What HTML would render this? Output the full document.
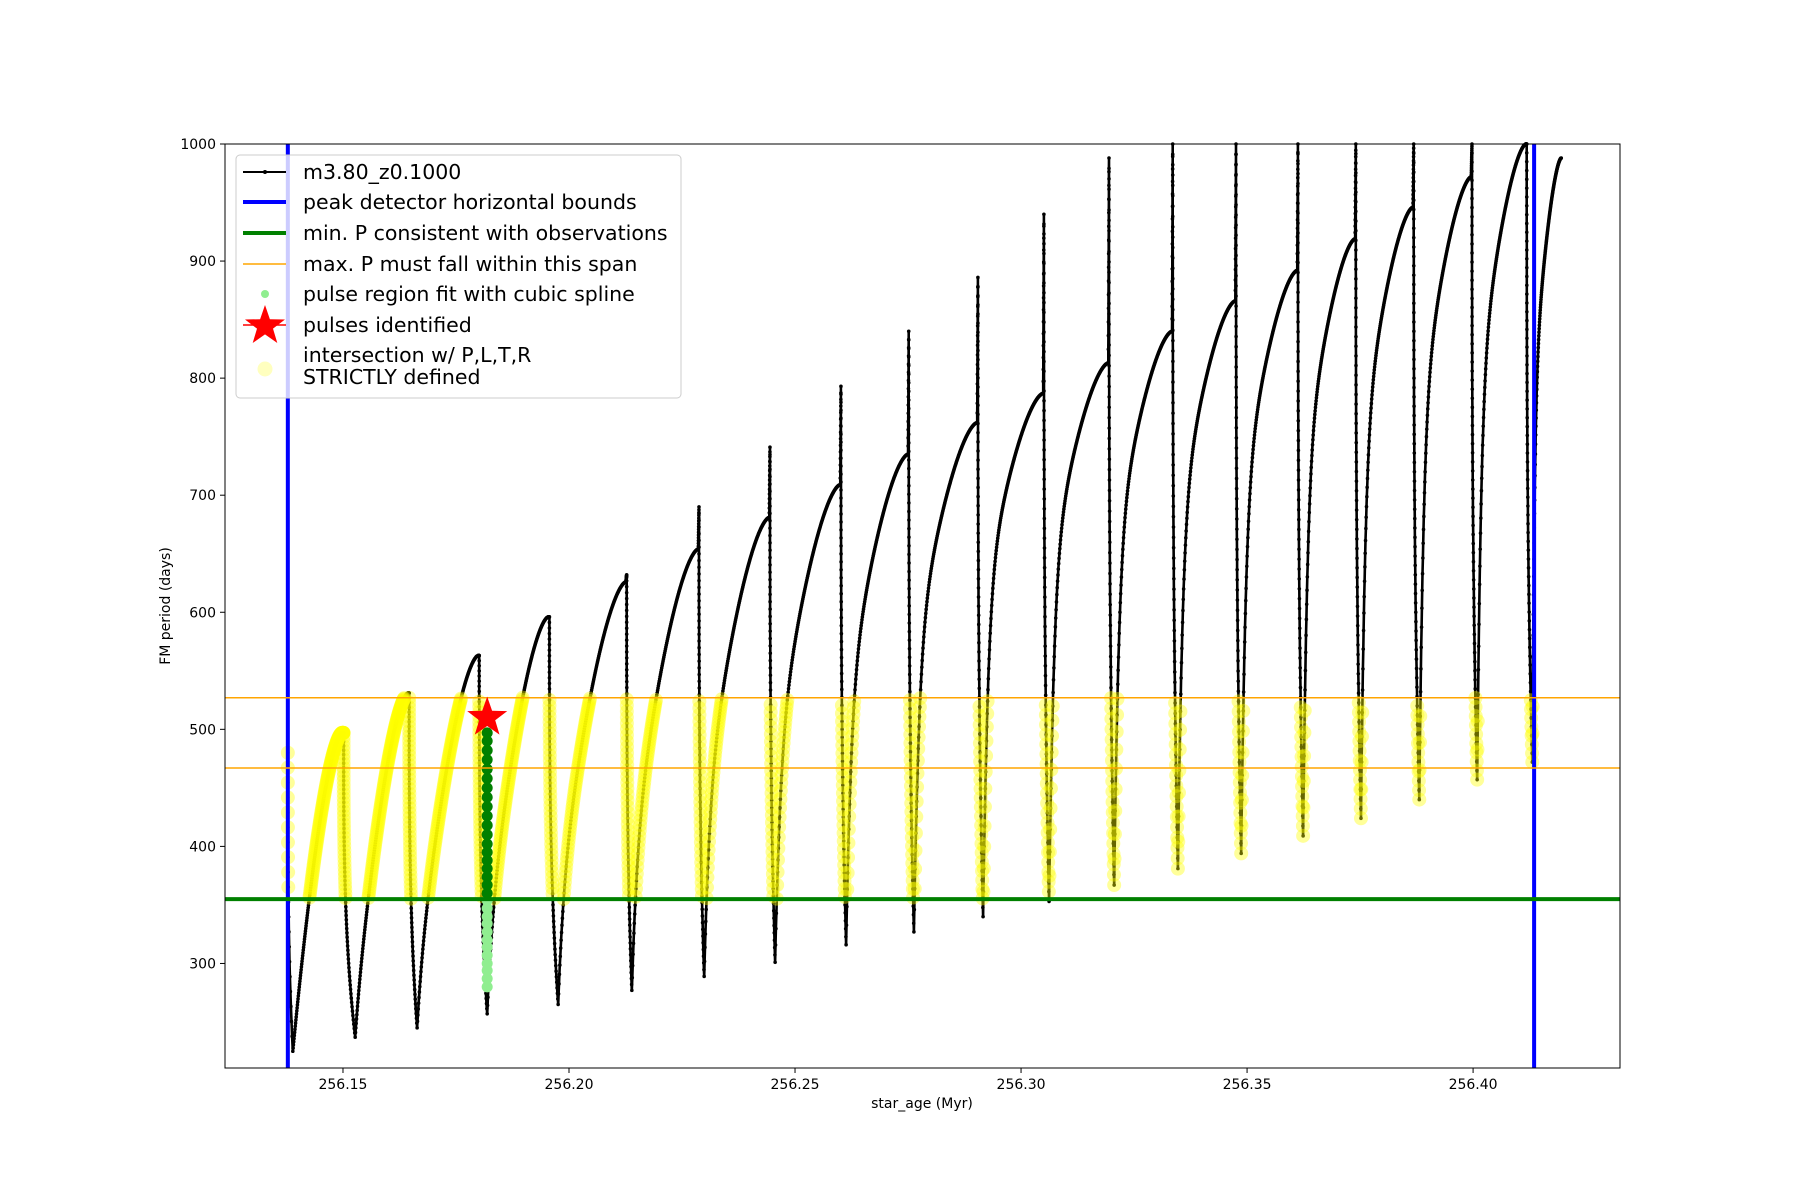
<!DOCTYPE html>
<html><head><meta charset="utf-8"><style>
body{margin:0;background:#fff}
svg{display:block;font-family:"DejaVu Sans","Liberation Sans",sans-serif}
</style></head><body>
<svg id="chart" width="1800" height="1200" xmlns="http://www.w3.org/2000/svg">
<rect width="1800" height="1200" fill="#fff"/>
<g id="marks"></g>
<rect x="225" y="144" width="1395" height="924" fill="none" stroke="#000" stroke-width="1"/>
<g id="axes"></g>
<text x="922" y="1108" text-anchor="middle" font-size="14">star_age (Myr)</text>
<text transform="translate(170,606) rotate(-90)" text-anchor="middle" font-size="14">FM period (days)</text>
<g>
<rect x="236" y="155" width="445" height="243" rx="4" fill="#fff" fill-opacity="0.8" stroke="#ccc"/>
<line x1="243" y1="172" x2="286" y2="172" stroke="#000" stroke-width="2"/><circle cx="265" cy="172" r="2" fill="#000"/>
<text x="303" y="179" font-size="20.5">m3.80_z0.1000</text>
<line x1="243" y1="202" x2="286" y2="202" stroke="#00f" stroke-width="4"/>
<text x="303" y="209" font-size="20.5">peak detector horizontal bounds</text>
<line x1="243" y1="233" x2="286" y2="233" stroke="#008000" stroke-width="4"/>
<text x="303" y="240" font-size="20.5">min. P consistent with observations</text>
<line x1="243" y1="264" x2="286" y2="264" stroke="orange" stroke-width="1.5"/>
<text x="303" y="271" font-size="20.5">max. P must fall within this span</text>
<circle cx="265" cy="294" r="4" fill="#90ee90"/>
<text x="303" y="301" font-size="20.5">pulse region fit with cubic spline</text>
<line x1="243" y1="325" x2="286" y2="325" stroke="red" stroke-width="1.5"/>
<polygon id="lstar" fill="red"/>
<text x="303" y="332" font-size="20.5">pulses identified</text>
<circle cx="265" cy="369" r="7.5" fill="#ffff00" fill-opacity="0.25"/>
<text x="303" y="362" font-size="20.5">intersection w/ P,L,T,R</text>
<text x="303" y="384" font-size="20.5">STRICTLY defined</text>
</g>
</svg>
<script>
const starts=[256.1389,256.1527,256.1664,256.1819,256.1976,256.2139,256.2299,256.2456,256.2613,256.2763,256.2916,256.3062,256.3206,256.3347,256.3487,256.3624,256.3752,256.3881,256.4009,256.4131];
const mins=[225,237,245,257,265,277,289,301,316,327,340,353,367,381,394,409,424,440,457,472];
const peakX=[256.1498,256.1644,256.1799,256.1954,256.2126,256.2286,256.2443,256.2600,256.2750,256.2903,256.3049,256.3193,256.3334,256.3474,256.3611,256.3739,256.3867,256.3996,256.4117,256.4195];
const peaks=[497,531,563,596,626,654,681,709,735,762,787,813,840,866,892,919,946,972,1000,988];
const spikes=[497,531,563,596,632,690,741,793,840,886,940,988,1000,1000,1000,1000,1000,1000,1000];
const initX=256.1378, initY=480;
const boundsX=[256.1378,256.4135];
const minP=[355];
const maxPSpan=[527,467];
const pulseX=256.1819;
const pulseY=[280,287,294,300,307,314,320,327,334,340,347,354,360,367,374,381,388,395,402,410,418,426,434,442,450,458,466,474,482,490,497];
const starX=[256.1819], starY=[510];
const xTicks=[256.15,256.20,256.25,256.30,256.35,256.40];
const yTicks=[300,400,500,600,700,800,900,1000];

const X0=256.1239,X1=256.4325,Y0=210.7,Y1=1000;
const L=225,R=1620,T=144,B=1068;
const sx=v=>L+(v-X0)/(X1-X0)*(R-L);
const sy=v=>B-(v-Y0)/(Y1-Y0)*(B-T);
const NS="http://www.w3.org/2000/svg";
const g=document.getElementById('marks');
function mk(tag,at,parent){const e=document.createElementNS(NS,tag);for(const k in at)e.setAttribute(k,at[k]);(parent||g).appendChild(e);return e;}

const pts=[[initX,initY]];
for(let k=1;k<=20;k++){const t=k/20;pts.push([initX+(starts[0]-initX)*Math.pow(t,3),initY+(mins[0]-initY)*t]);}
for(let i=0;i<starts.length;i++){
  const x0=starts[i],m=mins[i],xp=peakX[i],p=peaks[i];
  const a=Math.min(0.6,i*0.06), n=160;
  for(let k=1;k<=n;k++){const t=k/n;
    const f=a*(1-Math.pow(1-t,12))+(1-a)*(1-Math.pow(1-t,1.6));
    pts.push([x0+(xp-x0)*t,m+(p-m)*f]);}
  if(i<starts.length-1){
    const xn=starts[i+1],s=spikes[i];
    const xs=xp+(xn-xp)*0.12;
    for(let k=1;k<=15;k++){const t=k/15;pts.push([xp+(xs-xp)*t,p+(s-p)*t]);}
    for(let k=1;k<=70;k++){const t=k/70;pts.push([xs+(xn-xs)*Math.pow(t,3),s+(mins[i+1]-s)*t]);}
  }
}
const dpath=pts.map((q,i)=>(i?'L':'M')+sx(q[0]).toFixed(1)+','+sy(Math.min(q[1],1000)).toFixed(1)).join('');
const cg=mk('g',{});


mk('path',{d:dpath,fill:'none',stroke:'#000','stroke-width':2.6},cg);
pts.forEach(q=>{if(q[1]<=1000)mk('circle',{cx:sx(q[0]),cy:sy(q[1]),r:1.8,fill:'#000'},cg);});

const yg=mk('g',{'fill':'#ffff00','fill-opacity':0.4});


pts.forEach(q=>{if(q[1]>=minP[0]&&q[1]<=maxPSpan[0])mk('circle',{cx:sx(q[0]),cy:sy(q[1]),r:7},yg);});

const pg=mk('g',{});


pulseY.forEach(v=>{mk('circle',{cx:sx(pulseX),cy:sy(v),r:5.5,fill:v>=minP[0]?'#008000':'#90ee90'},pg);});

boundsX.forEach(v=>{const l=mk('line',{x1:sx(v),x2:sx(v),y1:T,y2:B,stroke:'#00f','stroke-width':4});

});
minP.forEach(v=>{const l=mk('line',{x1:L,x2:R,y1:sy(v),y2:sy(v),stroke:'#008000','stroke-width':4});

});
maxPSpan.forEach(v=>{const l=mk('line',{x1:L,x2:R,y1:sy(v),y2:sy(v),stroke:'orange','stroke-width':1.5});

});

function starPts(cx,cy,r){let s=[];for(let k=0;k<10;k++){const a=-Math.PI/2+k*Math.PI/5;const rr=k%2?r*0.4:r;s.push((cx+rr*Math.cos(a)).toFixed(1)+','+(cy+rr*Math.sin(a)).toFixed(1));}return s.join(' ');}
starX.forEach((v,i)=>{const s=mk('polygon',{points:starPts(sx(v),sy(starY[i]),21),fill:'red'});

});
document.getElementById('lstar').setAttribute('points',starPts(265,326,21));

const ax=document.getElementById('axes');
xTicks.forEach(v=>{const x=sx(v);mk('line',{x1:x,x2:x,y1:B,y2:B+5,stroke:'#000'},ax);
const t=mk('text',{x:x,y:B+21,'text-anchor':'middle','font-size':14},ax);t.textContent=v.toFixed(2);

});
yTicks.forEach(v=>{const y=sy(v);mk('line',{x1:L-5,x2:L,y1:y,y2:y,stroke:'#000'},ax);
const t=mk('text',{x:L-9,y:y+5,'text-anchor':'end','font-size':14},ax);t.textContent=v;

});
</script>
</body></html>
